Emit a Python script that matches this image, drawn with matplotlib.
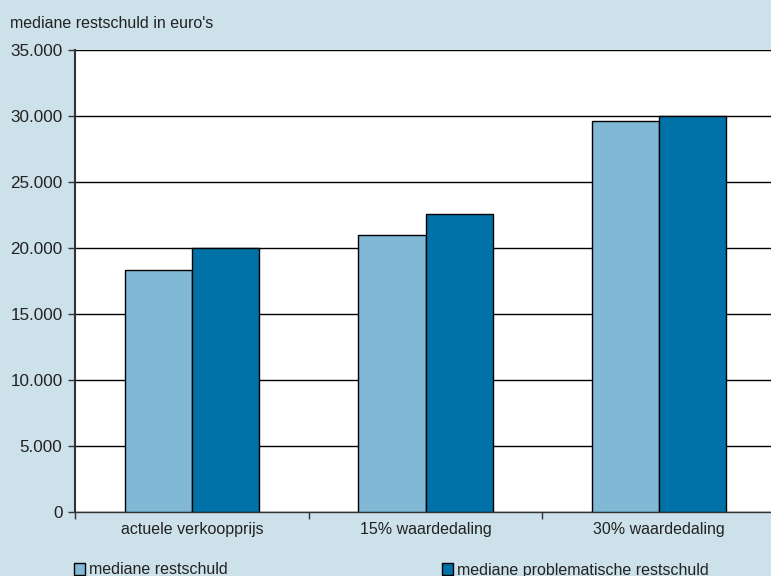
import matplotlib
matplotlib.use("Agg")
import matplotlib.pyplot as plt
import numpy as np
from matplotlib.patches import Patch

categories = ["actuele verkoopprijs", "15% waardedaling", "30% waardedaling"]
series_names = ["mediane restschuld", "mediane problematische restschuld"]
mediane = [18300, 21000, 29600]
problematisch = [20000, 22600, 30000]
yticks = [0, 5000, 10000, 15000, 20000, 25000, 30000, 35000]
ytick_labels = ["0", "5.000", "10.000", "15.000", "20.000", "25.000", "30.000", "35.000"]
ylabel = "mediane restschuld in euro's"

bg = "#cde1eb"
c_light = "#80b8d6"
c_dark = "#0072a8"

plt.rcParams['font.family'] = ['Liberation Sans', 'DejaVu Sans']

fig = plt.figure(figsize=(7.71, 5.76), dpi=100, facecolor=bg)
ax = fig.add_axes([75/771, 1-512/576, (776-75)/771, (512-50)/576])
ax.set_facecolor("white")

x = np.arange(len(categories))
w = 0.287
ax.bar(x - w/2, mediane, w, color=c_light, edgecolor="black", linewidth=1, zorder=3)
ax.bar(x + w/2, problematisch, w, color=c_dark, edgecolor="black", linewidth=1, zorder=3)

ax.set_xlim(-0.5, 2.5)
ax.set_ylim(0, 35000)
ax.set_yticks(yticks)
ax.set_yticklabels(ytick_labels, fontsize=12.3, color="#222222")
ax.yaxis.grid(True, color="black", linewidth=1, zorder=0)
ax.set_axisbelow(True)

ax.set_xticks([-0.5, 0.5, 1.5, 2.5])
ax.set_xticklabels([])
ax.set_xticks(x, minor=True)
ax.set_xticklabels(categories, minor=True, fontsize=11.5, color="#222222")
ax.tick_params(axis="x", which="minor", length=0, pad=7)
ax.tick_params(axis="x", which="major", length=5, width=1, direction="out", color="#333333")
ax.tick_params(axis="y", length=5, width=1, direction="out", color="#333333", pad=4)

for s in ["top", "right"]:
    ax.spines[s].set_visible(False)
ax.spines["left"].set_linewidth(1.5)
ax.spines["left"].set_color("#333333")
ax.spines["bottom"].set_linewidth(1)
ax.spines["bottom"].set_color("#333333")

fig.text(10/771, 1-23/576, ylabel, fontsize=11.5, color="#222222", va="center", ha="left")

h1 = Patch(facecolor=c_light, edgecolor="black", linewidth=1)
h2 = Patch(facecolor=c_dark, edgecolor="black", linewidth=1)
leg1 = fig.legend([h1], [series_names[0]], loc="center left", bbox_to_anchor=(71/771, 1-570/576),
                  frameon=False, fontsize=11.5, handlelength=0.7, handleheight=0.7,
                  handletextpad=0.2, borderaxespad=0, borderpad=0.2)
leg2 = fig.legend([h2], [series_names[1]], loc="center left", bbox_to_anchor=(439/771, 1-570/576),
                  frameon=False, fontsize=11.5, handlelength=0.7, handleheight=0.7,
                  handletextpad=0.2, borderaxespad=0, borderpad=0.2)
for t in leg1.get_texts() + leg2.get_texts():
    t.set_color("#222222")

fig.savefig("out.png", dpi=100, facecolor=bg)
